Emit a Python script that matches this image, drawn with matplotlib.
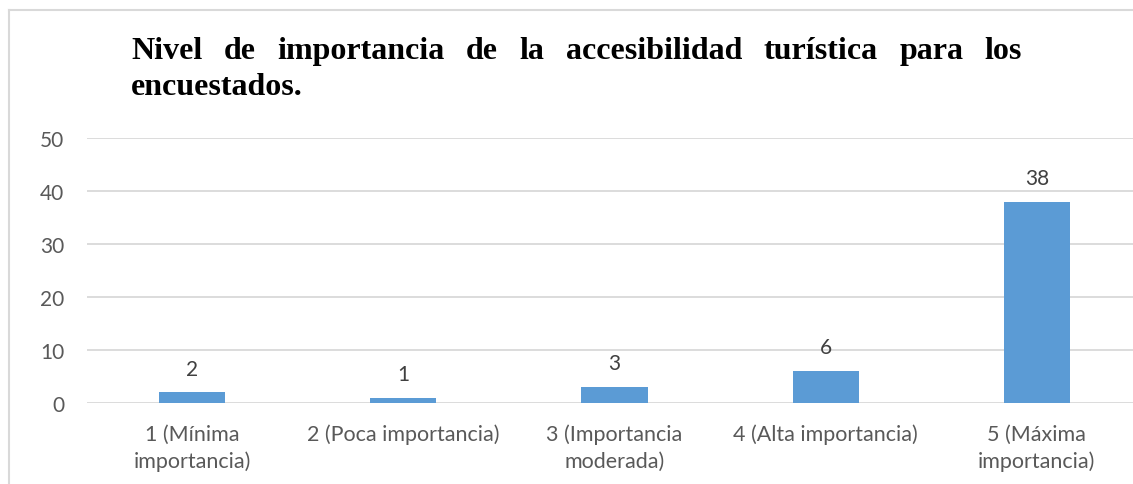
import matplotlib
matplotlib.use("Agg")
import matplotlib.pyplot as plt
from matplotlib.lines import Line2D

categories = ["1 (Mínima\nimportancia)", "2 (Poca importancia)", "3 (Importancia\nmoderada)",
              "4 (Alta importancia)", "5 (Máxima\nimportancia)"]
values = [2, 1, 3, 6, 38]
yticks = [0, 10, 20, 30, 40, 50]
title_line1 = "Nivel de importancia de la accesibilidad turística para los"
title_line2 = "encuestados."

W, H = 1133, 485
fig = plt.figure(figsize=(W / 100, H / 100), dpi=100)
fig.patch.set_facecolor("white")

# outer chart border (only top and left visible in the crop)
bc = "#d9d9d9"
fig.add_artist(Line2D([9 / W, 9 / W], [0, 1 - 11 / H], color=bc, lw=1.5, transform=fig.transFigure))
fig.add_artist(Line2D([9 / W, 1], [1 - 11 / H, 1 - 11 / H], color=bc, lw=1.5, transform=fig.transFigure))

ax = fig.add_axes([86.5 / W, 81 / H, 1056 / W, 265 / H])
x = list(range(len(categories)))
bars = ax.bar(x, values, width=0.313, color="#5b9bd5", zorder=3)
ax.set_xlim(-0.5, len(categories) - 0.5)
ax.set_ylim(0, 50)
ax.set_yticks(yticks)
ax.set_xticks(x)
ax.set_xticklabels(categories, linespacing=1.38)
ax.grid(axis="y", color="#d9d9d9", lw=1.3, zorder=0)
ax.set_axisbelow(True)
for s in ax.spines.values():
    s.set_visible(False)
ax.tick_params(axis="y", length=0, pad=16, labelsize=15, labelcolor="#595959")
ax.tick_params(axis="x", length=0, pad=15, labelsize=15.5, labelcolor="#595959")
for lab in ax.get_xticklabels() + ax.get_yticklabels():
    lab.set_fontfamily("Lato")
ax.bar_label(bars, labels=[str(v) for v in values], padding=10, fontsize=15,
             color="#404040", fontfamily="Lato")

# justified title, first line spread from x=131 to x=1022
tkw = dict(fontsize=23, fontweight="bold", fontfamily="Liberation Serif", color="black",
           transform=None, va="baseline", ha="left")
renderer = fig.canvas.get_renderer()
words = title_line1.split()
texts = [fig.text(0, 0, w_, **tkw) for w_ in words]
widths = [t.get_window_extent(renderer).width for t in texts]
x0, x1 = 131, 1022
gap = (x1 - x0 - sum(widths)) / (len(words) - 1)
xp = x0
for t, wd in zip(texts, widths):
    t.set_position((xp, H - 59))
    xp += wd + gap
fig.text(x0, H - 95, title_line2, **tkw)

fig.savefig("out.png", dpi=100)
